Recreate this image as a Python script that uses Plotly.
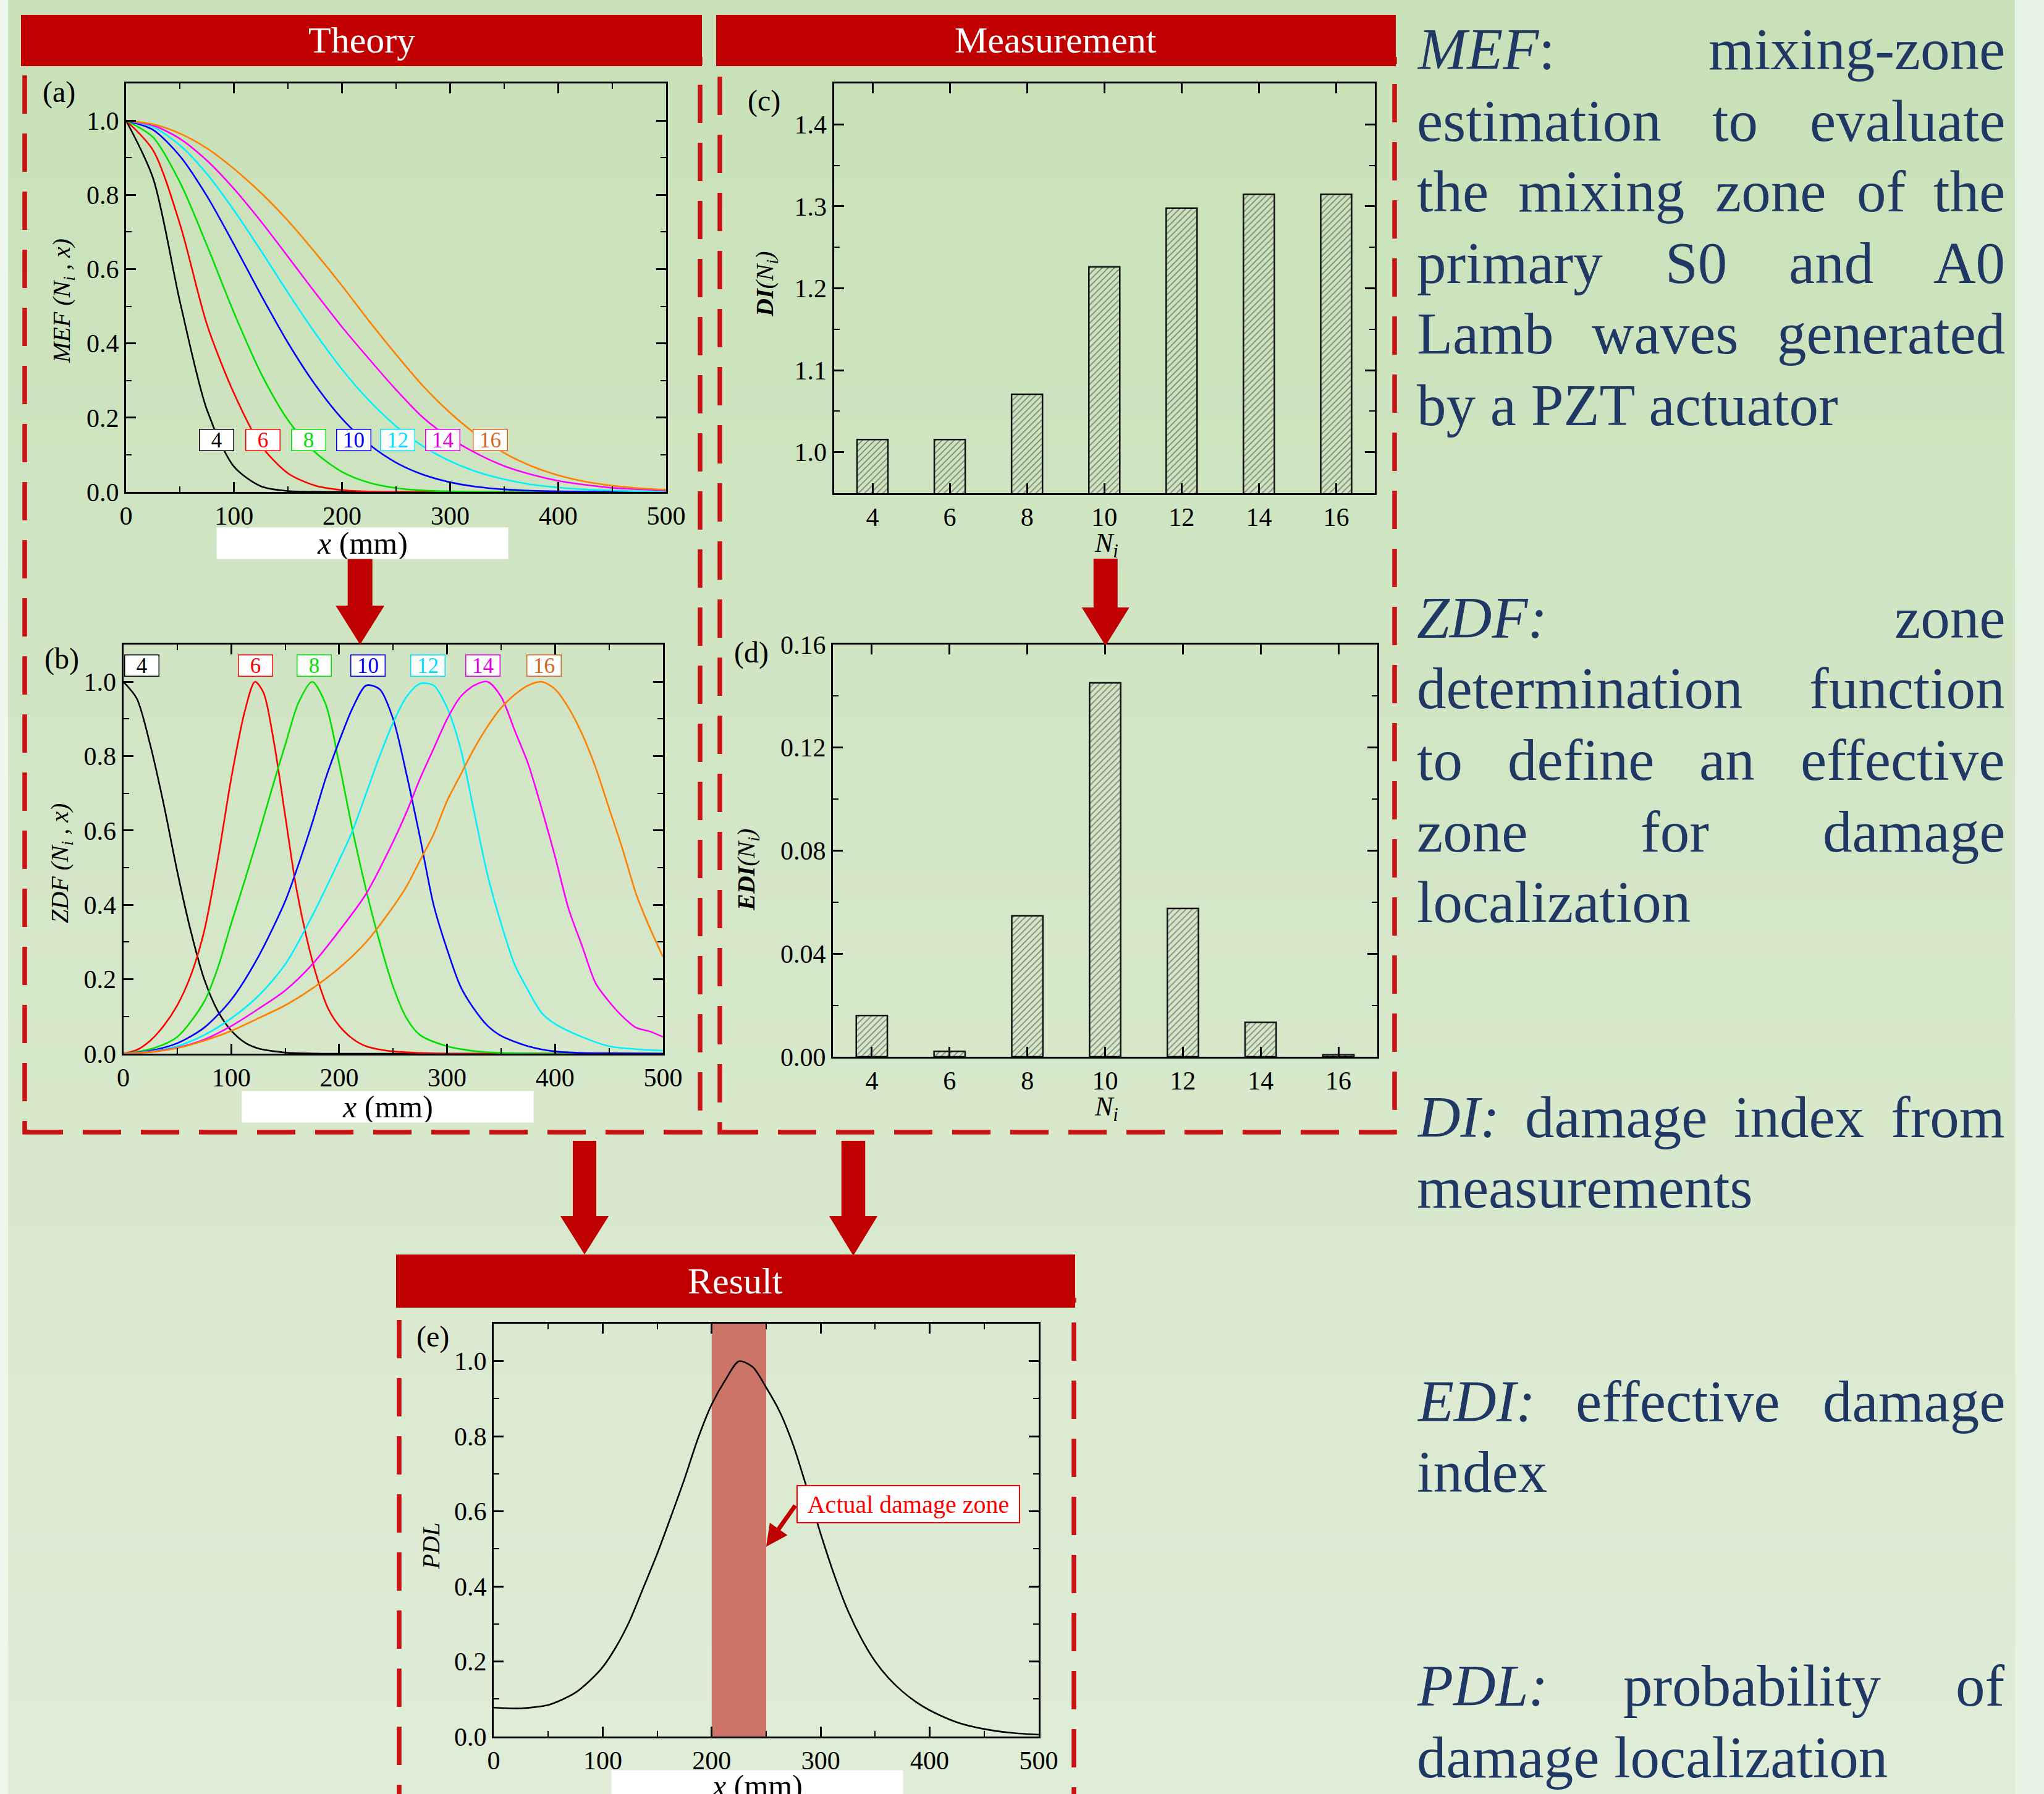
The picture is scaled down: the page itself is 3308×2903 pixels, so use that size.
import plotly.graph_objects as go

W, H = 3308, 2903
FONT = "Times New Roman, Liberation Serif, serif"

# ---------------- data ----------------
N_LABELS = ["4", "6", "8", "10", "12", "14", "16"]
LINE_COLORS = ["#000000", "#ff0000", "#00e000", "#0000ff", "#00f0ff", "#ff00ff", "#ff8000"]
LABEL_COLORS = ["#000000", "#ff0000", "#00e000", "#0000ff", "#00e0ff", "#e000e0", "#d2691e"]

# (a) MEF curves
MEF_X = [0, 25, 50, 75, 100, 125, 150, 175, 200, 225, 250, 275, 300, 325, 350, 375, 400, 425, 450, 475, 500]
MEF_4 = [1, 0.845, 0.511, 0.22, 0.068, 0.015, 0.0024, 0.0003, 0, 0, 0, 0, 0, 0, 0, 0, 0, 0, 0, 0, 0]
MEF_6 = [1, 0.92, 0.72, 0.45, 0.265, 0.125, 0.05, 0.017, 0.005, 0.0012, 0.0003, 0, 0, 0, 0, 0, 0, 0, 0, 0, 0]
MEF_8 = [1, 0.955, 0.833, 0.663, 0.482, 0.319, 0.193, 0.107, 0.054, 0.025, 0.0104, 0.004, 0.0014, 0.0004, 0.0001, 0, 0, 0, 0, 0, 0]
MEF_10 = [1, 0.975, 0.904, 0.796, 0.666, 0.53, 0.401, 0.289, 0.197, 0.128, 0.079, 0.0465, 0.026, 0.0138, 0.0069, 0.0033, 0.0015, 0.0007, 0.0003, 0.0001, 0]
MEF_12 = [1, 0.983, 0.933, 0.856, 0.758, 0.649, 0.536, 0.428, 0.33, 0.246, 0.177, 0.123, 0.083, 0.054, 0.034, 0.02, 0.012, 0.0067, 0.0037, 0.0019, 0.001]
MEF_14 = [1, 0.987, 0.951, 0.892, 0.816, 0.728, 0.633, 0.537, 0.444, 0.358, 0.275, 0.2, 0.145, 0.103, 0.07, 0.047, 0.03, 0.019, 0.011, 0.007, 0.004]
MEF_16 = [1, 0.99, 0.965, 0.925, 0.87, 0.805, 0.73, 0.645, 0.555, 0.46, 0.37, 0.285, 0.213, 0.153, 0.105, 0.07, 0.045, 0.028, 0.017, 0.01, 0.006]

# (b) ZDF curves
ZDF_4_X = [0, 12.5, 25, 37.5, 50, 62.5, 75, 87.5, 100, 112.5, 125, 150, 175, 200, 500]
ZDF_4_Y = [1, 0.955, 0.83, 0.67, 0.49, 0.33, 0.2, 0.115, 0.062, 0.03, 0.014, 0.003, 0.0005, 0, 0]
ZDF_6_X = [0, 12.5, 25, 37.5, 50, 62.5, 75, 87.5, 100, 112.5, 122, 130, 140, 150, 160, 170, 180, 190, 200, 212.5, 225, 250, 275, 300, 500]
ZDF_6_Y = [0, 0.01, 0.035, 0.075, 0.13, 0.21, 0.33, 0.52, 0.74, 0.92, 1.0, 0.97, 0.83, 0.64, 0.45, 0.31, 0.2, 0.12, 0.075, 0.04, 0.02, 0.006, 0.002, 0, 0]
ZDF_8_X = [0, 25, 50, 75, 87.5, 100, 112.5, 125, 137.5, 150, 162.5, 175, 187.5, 200, 212.5, 225, 237.5, 250, 262.5, 275, 300, 325, 350, 400, 500]
ZDF_8_Y = [0, 0.012, 0.045, 0.14, 0.23, 0.35, 0.465, 0.585, 0.71, 0.83, 0.945, 1.0, 0.94, 0.78, 0.6, 0.44, 0.3, 0.18, 0.095, 0.05, 0.02, 0.007, 0.002, 0, 0]
ZDF_10_X = [0, 25, 50, 75, 100, 125, 150, 162.5, 175, 187.5, 200, 212.5, 225, 237.5, 250, 262.5, 275, 287.5, 300, 312.5, 325, 337.5, 350, 375, 400, 425, 450, 500]
ZDF_10_Y = [0, 0.008, 0.028, 0.07, 0.145, 0.26, 0.41, 0.51, 0.62, 0.74, 0.84, 0.93, 0.99, 0.98, 0.9, 0.75, 0.58, 0.4, 0.28, 0.18, 0.12, 0.075, 0.048, 0.02, 0.006, 0.002, 0.001, 0]
ZDF_12_X = [0, 25, 50, 75, 100, 125, 150, 175, 200, 212.5, 225, 237.5, 250, 262.5, 275, 287.5, 300, 312.5, 325, 337.5, 350, 362.5, 375, 387.5, 400, 425, 450, 475, 500]
ZDF_12_Y = [0, 0.006, 0.02, 0.05, 0.095, 0.155, 0.24, 0.37, 0.52, 0.6, 0.7, 0.8, 0.89, 0.96, 0.995, 0.99, 0.93, 0.82, 0.65, 0.48, 0.35, 0.24, 0.17, 0.11, 0.08, 0.045, 0.02, 0.012, 0.008]
ZDF_14_X = [0, 25, 50, 75, 100, 125, 150, 175, 200, 225, 250, 262.5, 275, 287.5, 300, 312.5, 325, 337.5, 350, 362.5, 375, 387.5, 400, 412.5, 425, 437.5, 450, 462.5, 475, 487.5, 500]
ZDF_14_Y = [0, 0.005, 0.016, 0.038, 0.074, 0.12, 0.17, 0.24, 0.33, 0.43, 0.57, 0.65, 0.74, 0.82, 0.9, 0.96, 0.99, 1.0, 0.96, 0.87, 0.78, 0.66, 0.53, 0.39, 0.29, 0.19, 0.14, 0.1, 0.07, 0.06, 0.045]
ZDF_16_X = [0, 25, 50, 75, 100, 125, 150, 175, 200, 225, 250, 262.5, 275, 287.5, 300, 312.5, 325, 337.5, 350, 362.5, 375, 387.5, 400, 412.5, 425, 437.5, 450, 462.5, 475, 487.5, 500]
ZDF_16_Y = [0, 0.004, 0.015, 0.035, 0.061, 0.095, 0.13, 0.175, 0.23, 0.3, 0.395, 0.45, 0.52, 0.59, 0.68, 0.75, 0.82, 0.88, 0.93, 0.965, 0.99, 1.0, 0.98, 0.93, 0.86, 0.77, 0.66, 0.55, 0.43, 0.34, 0.26]

# (c), (d) bars
N_VALUES = [4, 6, 8, 10, 12, 14, 16]
DI_VALUES = [1.0155, 1.0155, 1.0707, 1.2263, 1.2979, 1.3147, 1.3147]
EDI_VALUES = [0.016, 0.0021, 0.0547, 0.1451, 0.0576, 0.0134, 0.0008]

# (e) PDL
PDL_X = [0, 25, 50, 62.5, 75, 87.5, 100, 112.5, 125, 137.5, 150, 162.5, 175, 187.5, 200, 212.5, 225, 237.5,
         250, 262.5, 275, 287.5, 300, 312.5, 325, 337.5, 350, 362.5, 375, 387.5, 400, 425, 450, 475, 500]
PDL_Y = [0.077, 0.075, 0.084, 0.098, 0.117, 0.147, 0.185, 0.24, 0.31, 0.398, 0.487, 0.585, 0.686, 0.795, 0.885, 0.95, 1.0, 0.985,
         0.93, 0.865, 0.775, 0.66, 0.54, 0.43, 0.335, 0.26, 0.2, 0.155, 0.12, 0.092, 0.07, 0.038, 0.02, 0.01, 0.005]
DAMAGE_ZONE = [200, 250]

MEF_SERIES = [MEF_4, MEF_6, MEF_8, MEF_10, MEF_12, MEF_14, MEF_16]
ZDF_SERIES = [(ZDF_4_X, ZDF_4_Y), (ZDF_6_X, ZDF_6_Y), (ZDF_8_X, ZDF_8_Y), (ZDF_10_X, ZDF_10_Y),
              (ZDF_12_X, ZDF_12_Y), (ZDF_14_X, ZDF_14_Y), (ZDF_16_X, ZDF_16_Y)]


def px(x):
    return x / W


def py(y):
    return 1 - y / H


fig = go.Figure()

# ---------------- traces ----------------
for ys, col in zip(MEF_SERIES, LINE_COLORS):
    fig.add_trace(go.Scatter(x=MEF_X, y=ys, mode="lines", xaxis="x", yaxis="y",
                             line=dict(color=col, width=2.6, shape="spline", smoothing=0.8)))
for (xs, ys), col in zip(ZDF_SERIES, LINE_COLORS):
    fig.add_trace(go.Scatter(x=xs, y=ys, mode="lines", xaxis="x2", yaxis="y2",
                             line=dict(color=col, width=2.6, shape="spline", smoothing=0.8)))

bar_marker = dict(color="rgba(0,0,0,0)", line=dict(color="#111111", width=2.5),
                  pattern=dict(shape="/", fgcolor="#2a2a2a", bgcolor="rgba(0,0,0,0)", size=7, solidity=0.25))
fig.add_trace(go.Bar(x=N_VALUES, y=DI_VALUES, width=0.8, xaxis="x3", yaxis="y3", marker=bar_marker))
fig.add_trace(go.Bar(x=N_VALUES, y=EDI_VALUES, width=0.8, xaxis="x4", yaxis="y4", marker=bar_marker))

fig.add_trace(go.Scatter(x=PDL_X, y=PDL_Y, mode="lines", xaxis="x5", yaxis="y5",
                         line=dict(color="black", width=2.6, shape="spline", smoothing=0.8)))


# ---------------- axes ----------------
def axis(domain, anchor, rng, dtick=None, minor=None, tickvals=None, fmt=None, tick0=None):
    d = dict(domain=domain, anchor=anchor, range=rng, showline=True, linecolor="black", linewidth=3,
             mirror="ticks", ticks="inside", ticklen=16, tickwidth=2.5, tickcolor="black",
             showgrid=False, zeroline=False, automargin=False,
             tickfont=dict(family=FONT, size=42, color="black"))
    if dtick is not None:
        d["dtick"] = dtick
    if tick0 is not None:
        d["tick0"] = tick0
    if tickvals is not None:
        d["tickmode"] = "array"
        d["tickvals"] = tickvals
    if fmt:
        d["tickformat"] = fmt
    if minor:
        d["minor"] = dict(ticks="inside", ticklen=9, tickwidth=2, tickcolor="black", dtick=minor, showgrid=False)
    return d


DOM = {
    "a": ([px(204), px(1078)], [py(796), py(135)]),
    "b": ([px(199.5), px(1073)], [py(1705), py(1043)]),
    "c": ([px(1349.5), px(2225)], [py(798), py(135)]),
    "d": ([px(1348), px(2229)], [py(1710), py(1043)]),
    "e": ([px(799), px(1681)], [py(2810), py(2142)]),
}

layout_axes = dict(
    xaxis=axis(DOM["a"][0], "y", [0, 500], 100, 50),
    yaxis=axis(DOM["a"][1], "x", [0, 1.1], 0.2, 0.1, fmt=".1f"),
    xaxis2=axis(DOM["b"][0], "y2", [0, 500], 100, 50),
    yaxis2=axis(DOM["b"][1], "x2", [0, 1.1], 0.2, 0.1, fmt=".1f"),
    xaxis3=axis(DOM["c"][0], "y3", [3, 17], tickvals=N_VALUES),
    yaxis3=axis(DOM["c"][1], "x3", [0.95, 1.45], 0.1, 0.05, fmt=".1f", tick0=1.0),
    xaxis4=axis(DOM["d"][0], "y4", [3, 17], tickvals=N_VALUES),
    yaxis4=axis(DOM["d"][1], "x4", [0, 0.16], 0.04, 0.02, fmt=".2f"),
    xaxis5=axis(DOM["e"][0], "y5", [0, 500], 100, 50),
    yaxis5=axis(DOM["e"][1], "x5", [0, 1.1], 0.2, 0.1, fmt=".1f"),
)

# ---------------- shapes ----------------
shapes = []
# background gradient
top_c = (200, 225, 184)
bot_c = (224, 236, 215)
NB = 60
for i in range(NB):
    t = (i + 0.5) / NB
    c = tuple(round(top_c[k] + (bot_c[k] - top_c[k]) * t) for k in range(3))
    shapes.append(dict(type="rect", xref="paper", yref="paper", x0=px(13), x1=px(3261),
                       y0=py(H * (i + 1) / NB + 1), y1=py(H * i / NB), fillcolor="rgb(%d,%d,%d)" % c,
                       line=dict(width=0), layer="below"))
shapes.append(dict(type="rect", xref="paper", yref="paper", x0=0, x1=px(13), y0=0, y1=1,
                   fillcolor="#eff6ec", line=dict(width=0), layer="below"))
shapes.append(dict(type="rect", xref="paper", yref="paper", x0=px(3261), x1=1, y0=0, y1=1,
                   fillcolor="#e8f2e2", line=dict(width=0), layer="below"))

# damage zone in (e)
shapes.append(dict(type="rect", xref="x5", yref="y5 domain", x0=DAMAGE_ZONE[0], x1=DAMAGE_ZONE[1], y0=0, y1=1,
                   fillcolor="#cc7468", line=dict(width=0), layer="below"))

RED = "#c00000"
DASH_RED = "#c81414"
# dashed boxes (top edges hidden under the header bars)
for (x0, y0, x1, y1) in [(40, 96, 1133, 1832), (1165, 96, 2257, 1832), (646, 2104, 1738, 2990)]:
    shapes.append(dict(type="rect", xref="paper", yref="paper", x0=px(x0), x1=px(x1), y0=py(y1), y1=py(y0),
                       line=dict(color=DASH_RED, width=7.5, dash="62px,32px"), fillcolor="rgba(0,0,0,0)"))


def arrow_path(cx, top, shaft_w, head_top, head_w, tip):
    pts = [(cx - shaft_w / 2, top), (cx + shaft_w / 2, top), (cx + shaft_w / 2, head_top),
           (cx + head_w / 2, head_top), (cx, tip), (cx - head_w / 2, head_top), (cx - shaft_w / 2, head_top)]
    return "M " + " L ".join("%.5f,%.5f" % (px(x), py(y)) for x, y in pts) + " Z"


for args in [(582.7, 904, 40, 980, 79, 1043), (1789.2, 904, 39, 983, 77, 1045),
             (946, 1846, 38, 1968, 78, 2030), (1381, 1846, 38.5, 1968, 78, 2032)]:
    shapes.append(dict(type="path", xref="paper", yref="paper", path=arrow_path(*args),
                       fillcolor=RED, line=dict(width=0)))

# headers
for (x0, y0, x1, y1) in [(34, 24, 1136, 107), (1159, 24, 2259, 107), (641, 2030, 1740, 2116)]:
    shapes.append(dict(type="rect", xref="paper", yref="paper", x0=px(x0), x1=px(x1), y0=py(y1), y1=py(y0),
                       fillcolor=RED, line=dict(width=0)))

# ---------------- annotations ----------------
ann = []


def ptext(text, x, y, size, color="black", xanchor="center", angle=0, **kw):
    d = dict(text=text, x=px(x), y=py(y), xref="paper", yref="paper", showarrow=False,
             xanchor=xanchor, yanchor="middle", textangle=angle,
             font=dict(family=FONT, size=size, color=color))
    d.update(kw)
    ann.append(d)


# header texts
ptext("Theory", 585, 65, 60, "white")
ptext("Measurement", 1709, 65, 60, "white")
ptext("Result", 1190, 2073, 60, "white")

# panel labels
ptext("(a)", 95, 149, 48)
ptext("(b)", 100, 1066, 48)
ptext("(c)", 1236, 163, 48)
ptext("(d)", 1216, 1056, 48)
ptext("(e)", 700, 2163, 48)

# y-axis titles
ptext("<i>MEF</i> <i>(N<sub>i</sub> , x)</i>", 102, 487, 40, angle=-90)
ptext("<i>ZDF</i> <i>(N<sub>i</sub> , x)</i>", 99, 1397, 40, angle=-90)
ptext("<b><i>DI</i></b><i>(N<sub>i</sub>)</i>", 1240, 460, 40, angle=-90)
ptext("<b><i>EDI</i></b><i>(N<sub>i</sub>)</i>", 1210, 1408, 40, angle=-90)
ptext("<i>PDL</i>", 697, 2502, 40, angle=-90)

# x-axis titles
for (cx, cy) in [(586, 879), (627, 1791), (1225, 2890)]:
    ptext("<i>x</i> (mm)", cx, cy, 50, bgcolor="white", width=471, height=50, borderpad=0)
ptext("<i>N<sub>i</sub></i>", 1790, 882, 44)
ptext("<i>N<sub>i</sub></i>", 1790, 1793, 44)

# series labels
A_LABEL_X = [83.9, 126.6, 169, 210.6, 251.6, 293, 337.2]
B_LABEL_X = [17.2, 122.6, 176.7, 226.7, 282, 333, 390]
for lab, col, xa, xb in zip(N_LABELS, LABEL_COLORS, A_LABEL_X, B_LABEL_X):
    for (xv, yv, xr, yr) in [(xa, 0.14, "x", "y"), (xb, 1.043, "x2", "y2")]:
        ann.append(dict(text=lab, x=xv, y=yv, xref=xr, yref=yr, showarrow=False, xanchor="center",
                        yanchor="middle", font=dict(family=FONT, size=35, color=col), bgcolor="white",
                        bordercolor=col, borderwidth=1.5, borderpad=1, width=52, height=31))

# damage zone callout
ptext("Actual damage zone", 1470, 2434, 40, "#ff0000", bgcolor="white", bordercolor="#ff0000",
      borderwidth=2, borderpad=3, width=352, height=52)
ann.append(dict(text="", x=DAMAGE_ZONE[1], y=0.506, xref="x5", yref="y5", showarrow=True,
                ax=48, ay=-68, arrowhead=2, arrowsize=1.0, arrowwidth=7, arrowcolor=RED))

# right-hand text panel
NAVY = "#1f3864"
LEFT, RIGHT = 2292, 3246
TEXT_LINES = [
    (80, [("<i>MEF</i>:", "L"), ("mixing-zone", "R")]),
    (196, [("estimation", "L"), ("to", 2808), ("evaluate", "R")]),
    (310, [("the", "L"), ("mixing", 2591), ("zone", 2865), ("of", 3045), ("the", "R")]),
    (426, [("primary", "L"), ("S0", 2745), ("and", 2963), ("A0", "R")]),
    (540, [("Lamb", "L"), ("waves", 2694), ("generated", "R")]),
    (656, [("by a PZT actuator", "L")]),
    (1000, [("<i>ZDF:</i>", "L"), ("zone", "R")]),
    (1114, [("determination", "L"), ("function", "R")]),
    (1230, [("to", "L"), ("define", 2558), ("an", 2795), ("effective", "R")]),
    (1346, [("zone", "L"), ("for", 2710), ("damage", "R")]),
    (1460, [("localization", "L")]),
    (1808, [("<i>DI:</i>", "L"), ("damage", 2615), ("index", 2911), ("from", "R")]),
    (1922, [("measurements", "L")]),
    (2268, [("<i>EDI:</i>", "L"), ("effective", 2715), ("damage", "R")]),
    (2382, [("index", "L")]),
    (2728, [("<i>PDL:</i>", "L"), ("probability", 2835), ("of", "R")]),
    (2844, [("damage localization", "L")]),
]
for yc, words in TEXT_LINES:
    for w, pos in words:
        if pos == "L":
            ptext(w, LEFT, yc, 95, NAVY, xanchor="left", borderpad=0)
        elif pos == "R":
            ptext(w, RIGHT, yc, 95, NAVY, xanchor="right", borderpad=0)
        else:
            ptext(w, pos, yc, 95, NAVY, xanchor="center", borderpad=0)

fig.update_layout(
    width=W, height=H, margin=dict(l=0, r=0, t=0, b=0, pad=0, autoexpand=False),
    paper_bgcolor="#d4e7c8", plot_bgcolor="rgba(0,0,0,0)",
    showlegend=False, shapes=shapes, annotations=ann,
    font=dict(family=FONT, color="black"),
    **layout_axes,
)

fig.write_html("out.html", config={"displayModeBar": False},
               post_script="document.body.style.margin='0px';document.body.style.overflow='hidden';")
